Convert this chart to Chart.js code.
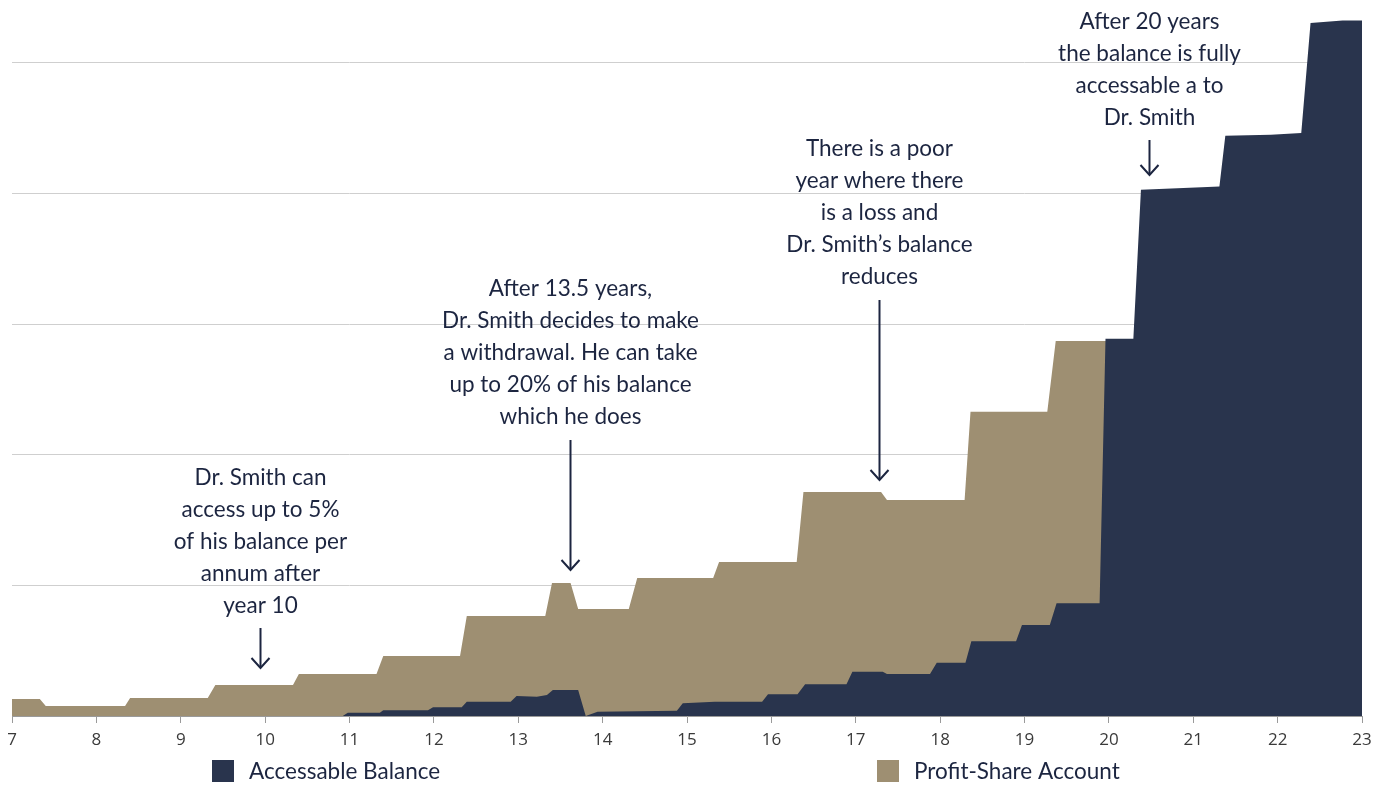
<!DOCTYPE html>
<html>
<head>
<meta charset="utf-8">
<script src="https://cdn.jsdelivr.net/npm/chart.js@4/dist/chart.umd.min.js"></script>
<style>
  html, body { margin: 0; padding: 0; background: #ffffff; }
  #wrap { width: 1383px; height: 785px; position: relative; }
</style>
</head>
<body>
<div id="wrap"><canvas id="c" width="1383" height="785"></canvas></div>
<script>
// ---- Data (years on x, balance in arbitrary units; grid step = 100) ----
const seriesNames = ["Accessable Balance", "Profit-Share Account"];
const xTicks = [7, 8, 9, 10, 11, 12, 13, 14, 15, 16, 17, 18, 19, 20, 21, 22, 23];

const profitYears = [7.00, 7.33, 7.40, 8.34, 8.40, 9.32, 9.41, 10.33, 10.40, 11.32, 11.40, 12.31, 12.39, 13.32, 13.40, 13.62, 13.71, 14.31, 14.41, 15.31, 15.38, 16.30, 16.38, 17.30, 17.37, 18.29, 18.36, 19.27, 19.37, 19.97];
const profitValues = [13.0, 13.0, 7.7, 7.7, 13.8, 13.8, 23.7, 23.7, 32.2, 32.2, 45.9, 45.9, 76.6, 76.6, 101.8, 101.8, 81.9, 81.9, 105.7, 105.7, 117.9, 117.9, 171.5, 171.5, 165.4, 165.4, 232.8, 232.8, 287.1, 287.1];

const accessYears = [10.92, 10.98, 11.36, 11.40, 11.93, 11.99, 12.33, 12.39, 12.91, 12.98, 13.22, 13.34, 13.41, 13.71, 13.80, 13.94, 14.88, 14.95, 15.33, 15.89, 15.96, 16.31, 16.40, 16.89, 16.96, 17.32, 17.37, 17.88, 17.96, 18.30, 18.37, 18.90, 18.97, 19.30, 19.38, 19.89, 19.96, 20.29, 20.38, 21.10, 21.31, 21.38, 21.92, 22.28, 22.39, 22.77, 23.00];
const accessValues = [0, 2.5, 2.5, 4.4, 4.4, 6.7, 6.7, 10.9, 10.9, 15.3, 14.8, 16.1, 19.9, 19.9, 0, 3.3, 4.1, 9.7, 10.9, 10.9, 16.6, 16.6, 24.3, 24.3, 33.9, 33.9, 32.2, 32.2, 40.8, 40.8, 57.2, 57.2, 69.7, 69.7, 86.3, 86.3, 288.7, 288.7, 402.8, 404.8, 405.3, 444.1, 444.9, 446.2, 530.4, 532.4, 532.4];

const annotations = [
  { x: 9.94,  lines: ["Dr. Smith can", "access up to 5%", "of his balance per", "annum after", "year 10"], firstLineY: 478, arrowTop: 628, arrowBottom: 668 },
  { x: 13.61, lines: ["After 13.5 years,", "Dr. Smith decides to make", "a withdrawal. He can take", "up to 20% of his balance", "which he does"], firstLineY: 289, arrowTop: 440, arrowBottom: 570 },
  { x: 17.28, lines: ["There is a poor", "year where there", "is a loss and", "Dr. Smith\u2019s balance", "reduces"], firstLineY: 149, arrowTop: 300, arrowBottom: 480 },
  { x: 20.47, lines: ["After 20 years", "the balance is fully", "accessable a to", "Dr. Smith"], firstLineY: 22, arrowTop: 140, arrowBottom: 175 }
];

// ---- Styling ----
const NAVY = "#29344d";
const TAN = "#9e8f72";
const TEXT = "#1c2540";
const FONT = "Lato, 'Open Sans', sans-serif";

const toPoints = (xs, ys) => xs.map((x, i) => ({ x: x, y: ys[i] }));

const annotationPlugin = {
  id: "notes",
  afterDraw(chart) {
    const ctx = chart.ctx;
    const xs = chart.scales.x;
    ctx.save();
    ctx.fillStyle = TEXT;
    ctx.strokeStyle = TEXT;
    ctx.font = "22.5px " + FONT;
    ctx.textAlign = "center";
    ctx.textBaseline = "middle";
    annotations.forEach(a => {
      const px = Math.round(xs.getPixelForValue(a.x)) + 0.5;
      a.lines.forEach((t, i) => ctx.fillText(t, px, a.firstLineY + i * 32));
      ctx.lineWidth = 2;
      ctx.beginPath();
      ctx.moveTo(px, a.arrowTop);
      ctx.lineTo(px, a.arrowBottom);
      ctx.stroke();
      ctx.beginPath();
      ctx.moveTo(px - 9, a.arrowBottom - 10);
      ctx.lineTo(px, a.arrowBottom);
      ctx.lineTo(px + 9, a.arrowBottom - 10);
      ctx.stroke();
    });
    // legend
    const legendItems = [
      { label: seriesNames[0], color: NAVY, x: 212 },
      { label: seriesNames[1], color: TAN, x: 877 }
    ];
    ctx.textAlign = "left";
    ctx.font = "22.5px " + FONT;
    legendItems.forEach(l => {
      ctx.fillStyle = l.color;
      ctx.fillRect(l.x, 760, 22, 22);
      ctx.fillStyle = TEXT;
      ctx.fillText(l.label, l.x + 37, 772);
    });
    ctx.restore();
  }
};

new Chart(document.getElementById("c"), {
  type: "line",
  data: {
    datasets: [
      {
        label: seriesNames[0],
        data: toPoints(accessYears, accessValues),
        backgroundColor: NAVY,
        borderColor: NAVY,
        borderWidth: 0,
        pointRadius: 0,
        fill: "origin",
        tension: 0
      },
      {
        label: seriesNames[1],
        data: toPoints(profitYears, profitValues),
        backgroundColor: TAN,
        borderColor: TAN,
        borderWidth: 0,
        pointRadius: 0,
        fill: "origin",
        tension: 0
      }
    ]
  },
  options: {
    responsive: false,
    animation: false,
    devicePixelRatio: 1,
    layout: { padding: { left: 12, right: 21, top: 4, bottom: 39 } },
    plugins: { legend: { display: false }, tooltip: { enabled: false } },
    scales: {
      x: {
        type: "linear",
        min: 7,
        max: 23,
        z: 1,
        afterBuildTicks(scale) { scale.ticks = xTicks.map(v => ({ value: v })); },
        afterFit(scale) { scale.height = 30; },
        border: { display: true, color: "#9a9a9a", width: 1 },
        grid: { drawOnChartArea: false, drawTicks: true, tickLength: 7, color: "#9a9a9a" },
        ticks: { color: "#3a3a3a", font: { family: "'Open Sans', sans-serif", size: 17 }, padding: 7, maxRotation: 0, autoSkip: false }
      },
      y: {
        min: 0,
        max: 545,
        afterFit(scale) { scale.width = 0; },
        border: { display: false },
        grid: { color: "#cfcfcf", lineWidth: 1, drawTicks: false },
        ticks: { display: false, stepSize: 100, includeBounds: false }
      }
    }
  },
  plugins: [annotationPlugin]
});
</script>
</body>
</html>
